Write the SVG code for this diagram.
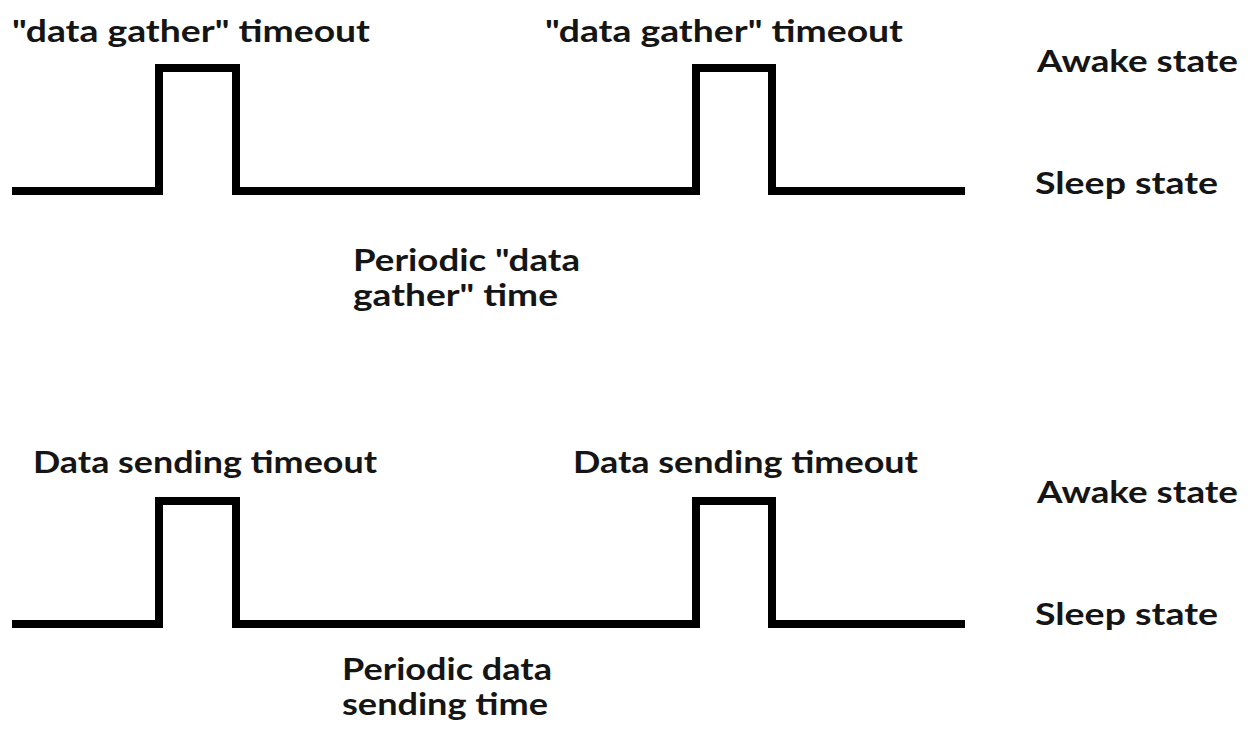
<svg xmlns="http://www.w3.org/2000/svg" width="1254" height="735" viewBox="0 0 1254 735">
<style>
.t{font-family:Lato,"Liberation Sans",sans-serif;font-weight:bold;font-size:30px;fill:#151515}
.w{fill:none;stroke:#000;stroke-width:8;stroke-linejoin:miter;stroke-linecap:butt}
</style>
<rect width="1254" height="735" fill="#fff"/>
<g id="connectors">
<path id="wave-gather" class="w" d="M12,191 H159 V68 H236 V191 H696 V68 H772 V191 H965"/>
<path id="wave-send" class="w" d="M12,624 H159 V501 H236 V624 H696 V501 H772 V624 H965"/>
</g>
<g id="labels-gather">
<text class="t" x="12" y="42" textLength="358" lengthAdjust="spacingAndGlyphs">"data gather" timeout</text>
<text class="t" x="545" y="42" textLength="358" lengthAdjust="spacingAndGlyphs">"data gather" timeout</text>
<text class="t" x="1037" y="72" textLength="201" lengthAdjust="spacingAndGlyphs">Awake state</text>
<text class="t" x="1035" y="194" textLength="183" lengthAdjust="spacingAndGlyphs">Sleep state</text>
<text class="t" x="353" y="271" textLength="227" lengthAdjust="spacingAndGlyphs">Periodic "data</text>
<text class="t" x="353" y="306" textLength="205" lengthAdjust="spacingAndGlyphs">gather" time</text>
</g>
<g id="labels-send">
<text class="t" x="33" y="473" textLength="344" lengthAdjust="spacingAndGlyphs">Data sending timeout</text>
<text class="t" x="573" y="473" textLength="345" lengthAdjust="spacingAndGlyphs">Data sending timeout</text>
<text class="t" x="1037" y="503" textLength="201" lengthAdjust="spacingAndGlyphs">Awake state</text>
<text class="t" x="1035" y="625" textLength="183" lengthAdjust="spacingAndGlyphs">Sleep state</text>
<text class="t" x="342" y="680" textLength="210" lengthAdjust="spacingAndGlyphs">Periodic data</text>
<text class="t" x="342" y="715" textLength="206" lengthAdjust="spacingAndGlyphs">sending time</text>
</g>
</svg>
